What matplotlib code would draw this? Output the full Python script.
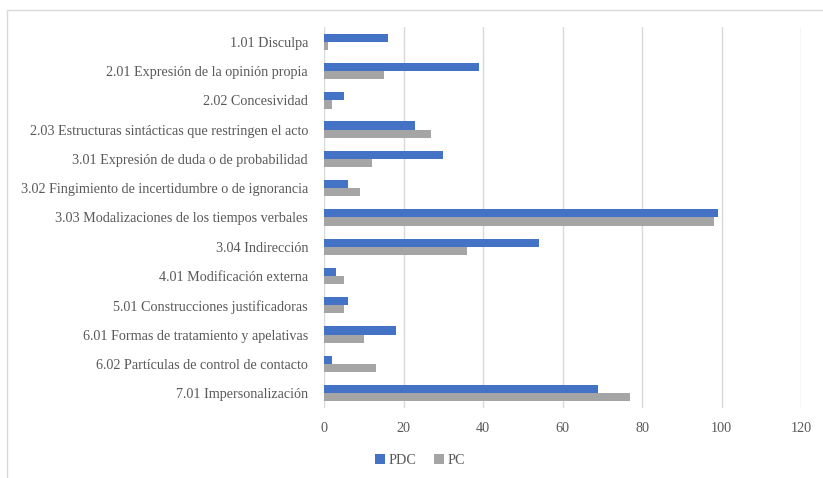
import matplotlib.pyplot as plt
import numpy as np

categories = [
    "1.01 Disculpa",
    "2.01 Expresión de la opinión propia",
    "2.02 Concesividad",
    "2.03 Estructuras sintácticas que restringen el acto",
    "3.01 Expresión de duda o de probabilidad",
    "3.02 Fingimiento de incertidumbre o de ignorancia",
    "3.03 Modalizaciones de los tiempos verbales",
    "3.04 Indirección",
    "4.01 Modificación externa",
    "5.01 Construcciones justificadoras",
    "6.01 Formas de tratamiento y apelativas",
    "6.02 Partículas de control de contacto",
    "7.01 Impersonalización",
]
pdc = [16, 39, 5, 23, 30, 6, 99, 54, 3, 6, 18, 2, 69]
pc = [1, 15, 2, 27, 12, 9, 98, 36, 5, 5, 10, 13, 77]
x_ticks = [0, 20, 40, 60, 80, 100, 120]

plt.rcParams['font.family'] = ['Liberation Serif', 'DejaVu Serif']
text_color = '#595959'

fig = plt.figure(figsize=(8.23, 4.78), dpi=100)
ax = fig.add_axes([0.3937, 0.147, 0.5796, 0.796])

y = np.arange(len(categories))
h = 0.28
ax.barh(y - h / 2, pdc, height=h, color='#4472C4', label='PDC', zorder=3)
ax.barh(y + h / 2, pc, height=h, color='#A5A5A5', label='PC', zorder=3)

ax.set_ylim(len(categories) - 0.5, -0.5)
ax.set_xlim(0, 120)
ax.set_xticks(x_ticks)
ax.set_yticks(y)
ax.set_yticklabels(categories, fontsize=10.2, color=text_color)
ax.tick_params(axis='x', labelsize=10.2, labelcolor=text_color, length=0, pad=10)
ax.tick_params(axis='y', length=0, pad=11.5)
ax.grid(axis='x', color='#D9D9D9', linewidth=1, zorder=0)
for s in ax.spines.values():
    s.set_visible(False)

fig.legend(loc='center', bbox_to_anchor=(420 / 823, 1 - 460 / 478), ncol=2,
           frameon=False, fontsize=10.2, labelcolor=text_color,
           handlelength=0.7, handleheight=0.7, handletextpad=0.3, columnspacing=1.2)

# chart border, cut off on the right and bottom
fig.patches.append(plt.Rectangle((6.5 / 823, -0.05), 1.0, 1 - 10.5 / 478 + 0.05,
                                 transform=fig.transFigure, fill=False,
                                 edgecolor='#D9D9D9', linewidth=1))

fig.savefig('out.png', dpi=100)
